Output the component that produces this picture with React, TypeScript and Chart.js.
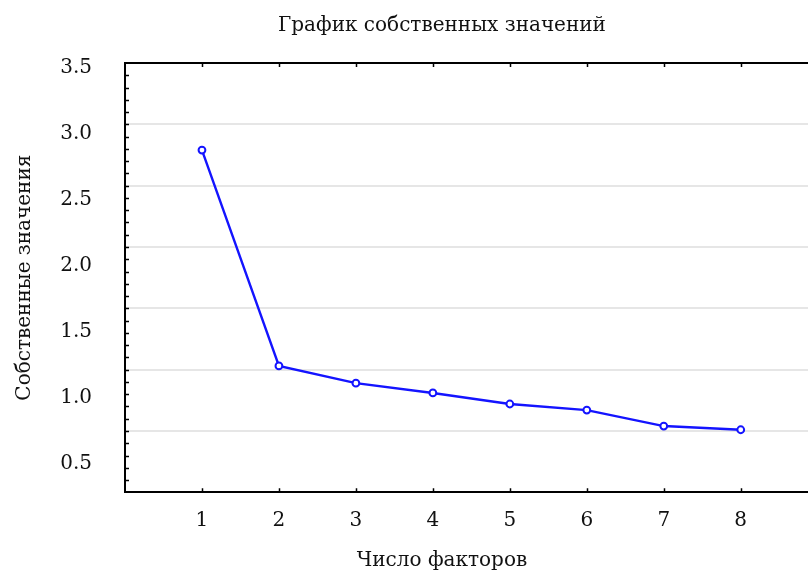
import React, { useEffect, useRef } from 'react';
import { Chart, registerables } from 'chart.js';

Chart.register(...registerables);

// ---- data ----
const chartTitle = 'График собственных значений';
const xAxisTitle = 'Число факторов';
const yAxisTitle = 'Собственные значения';
const factorNumbers = [1, 2, 3, 4, 5, 6, 7, 8];
const eigenvalues = [2.79, 1.03, 0.89, 0.81, 0.72, 0.67, 0.54, 0.51];
const yTickLabels = [0.5, 1.0, 1.5, 2.0, 2.5, 3.0, 3.5];
const xRange = [0, 9];
const yRange = [0, 3.5];
const yLabelRange = [0.288, 3.533];
const yGridStep = 0.5;
const yMinorStep = 0.1;

// ---- styles ----
const FONT_FAMILY = "'DejaVu Serif', 'Liberation Serif', serif";
const TEXT_COLOR = '#111';
const LINE_COLOR = 'rgb(20, 20, 255)';
const CANVAS_W = 884;
const CANVAS_H = 580;
const X_TITLE_PAD_BOTTOM = 7;
const X_TITLE_BOX = 24 + X_TITLE_PAD_BOTTOM;

const inwardTicks = {
  id: 'inwardTicks',
  afterDraw(chart: any) {
    const { ctx, chartArea } = chart;
    const { left, top, bottom } = chartArea;
    const xs = chart.scales.x;
    const ys = chart.scales.y;
    ctx.save();
    ctx.strokeStyle = '#000';
    ctx.lineWidth = 1.5;
    ctx.beginPath();
    for (const v of factorNumbers) {
      const px = Math.round(xs.getPixelForValue(v)) + 0.5;
      ctx.moveTo(px, bottom);
      ctx.lineTo(px, bottom - 4);
      ctx.moveTo(px, top);
      ctx.lineTo(px, top + 4);
    }
    const n = Math.round((yRange[1] - yRange[0]) / yMinorStep);
    for (let i = 1; i < n; i++) {
      const py = Math.round(ys.getPixelForValue(yRange[0] + i * yMinorStep)) + 0.5;
      ctx.moveTo(left, py);
      ctx.lineTo(left + 4, py);
    }
    ctx.stroke();
    ctx.restore();
  },
};

export default function App() {
  const canvasRef = useRef<HTMLCanvasElement | null>(null);

  useEffect(() => {
    if (!canvasRef.current) return;
    const font = { family: FONT_FAMILY, size: 20, weight: 'normal' as const };
    const chart = new Chart(canvasRef.current, {
      type: 'line',
      data: {
        datasets: [
          {
            data: factorNumbers.map((f, i) => ({ x: f, y: eigenvalues[i] })),
            borderColor: LINE_COLOR,
            borderWidth: 2.4,
            pointRadius: 3.4,
            pointBorderWidth: 2,
            pointBackgroundColor: '#ffffff',
            pointBorderColor: LINE_COLOR,
            tension: 0,
            xAxisID: 'x',
            yAxisID: 'y',
          },
        ],
      },
      options: {
        responsive: false,
        animation: false,
        devicePixelRatio: 1,
        layout: { padding: 0 },
        plugins: {
          legend: { display: false },
          tooltip: { enabled: false },
          title: {
            display: true,
            text: chartTitle,
            color: TEXT_COLOR,
            font,
            padding: { top: 14, bottom: 25 },
          },
          subtitle: {
            display: true,
            position: 'bottom',
            text: xAxisTitle,
            color: TEXT_COLOR,
            font,
            padding: { top: 0, bottom: X_TITLE_PAD_BOTTOM },
          },
        },
        scales: {
          x: {
            type: 'linear',
            position: 'bottom',
            min: xRange[0],
            max: xRange[1],
            afterBuildTicks: (s: any) => {
              s.ticks = factorNumbers.map((v) => ({ value: v }));
            },
            grid: { display: false, drawTicks: false },
            border: { display: true, color: '#000', width: 2 },
            ticks: {
              color: TEXT_COLOR,
              font,
              padding: 16,
              maxRotation: 0,
              callback: (v: any) => String(v),
            },
            afterFit: (s: any) => {
              s.height = CANVAS_H - 492.3 - X_TITLE_BOX;
            },
          },
          xTop: {
            type: 'linear',
            position: 'top',
            min: xRange[0],
            max: xRange[1],
            ticks: { display: false },
            grid: { display: false, drawTicks: false },
            border: { display: true, color: '#000', width: 2 },
            afterFit: (s: any) => {
              s.height = 0;
            },
          },
          y: {
            type: 'linear',
            position: 'left',
            weight: 0,
            min: yRange[0],
            max: yRange[1],
            ticks: { display: false, stepSize: yGridStep },
            grid: { color: '#e6e6e6', lineWidth: 2, drawTicks: false },
            border: { display: true, color: '#000', width: 2 },
            afterFit: (s: any) => {
              s.width = 0;
            },
          },
          yLabels: {
            type: 'linear',
            position: 'left',
            weight: 1,
            min: yLabelRange[0],
            max: yLabelRange[1],
            afterBuildTicks: (s: any) => {
              s.ticks = yTickLabels.map((v) => ({ value: v }));
            },
            ticks: {
              color: TEXT_COLOR,
              font,
              padding: 33,
              callback: (v: any) => Number(v).toFixed(1),
            },
            grid: { display: false, drawTicks: false },
            border: { display: false },
            title: {
              display: true,
              text: yAxisTitle,
              color: TEXT_COLOR,
              font,
              padding: { top: 13, bottom: 0 },
            },
            afterFit: (s: any) => {
              s.width = 125;
            },
          },
          yRight: {
            type: 'linear',
            position: 'right',
            ticks: { display: false },
            grid: { display: false, drawTicks: false },
            border: { display: false },
            afterFit: (s: any) => {
              s.width = CANVAS_W - 817.7;
            },
          },
        },
      },
      plugins: [inwardTicks],
    });
    return () => chart.destroy();
  }, []);

  return (
    <div
      style={{
        position: 'fixed',
        left: 0,
        top: 0,
        width: 808,
        height: 570,
        overflow: 'hidden',
        background: '#fff',
      }}
    >
      <canvas
        ref={canvasRef}
        width={CANVAS_W}
        height={CANVAS_H}
        style={{ width: CANVAS_W, height: CANVAS_H, display: 'block' }}
      />
    </div>
  );
}
